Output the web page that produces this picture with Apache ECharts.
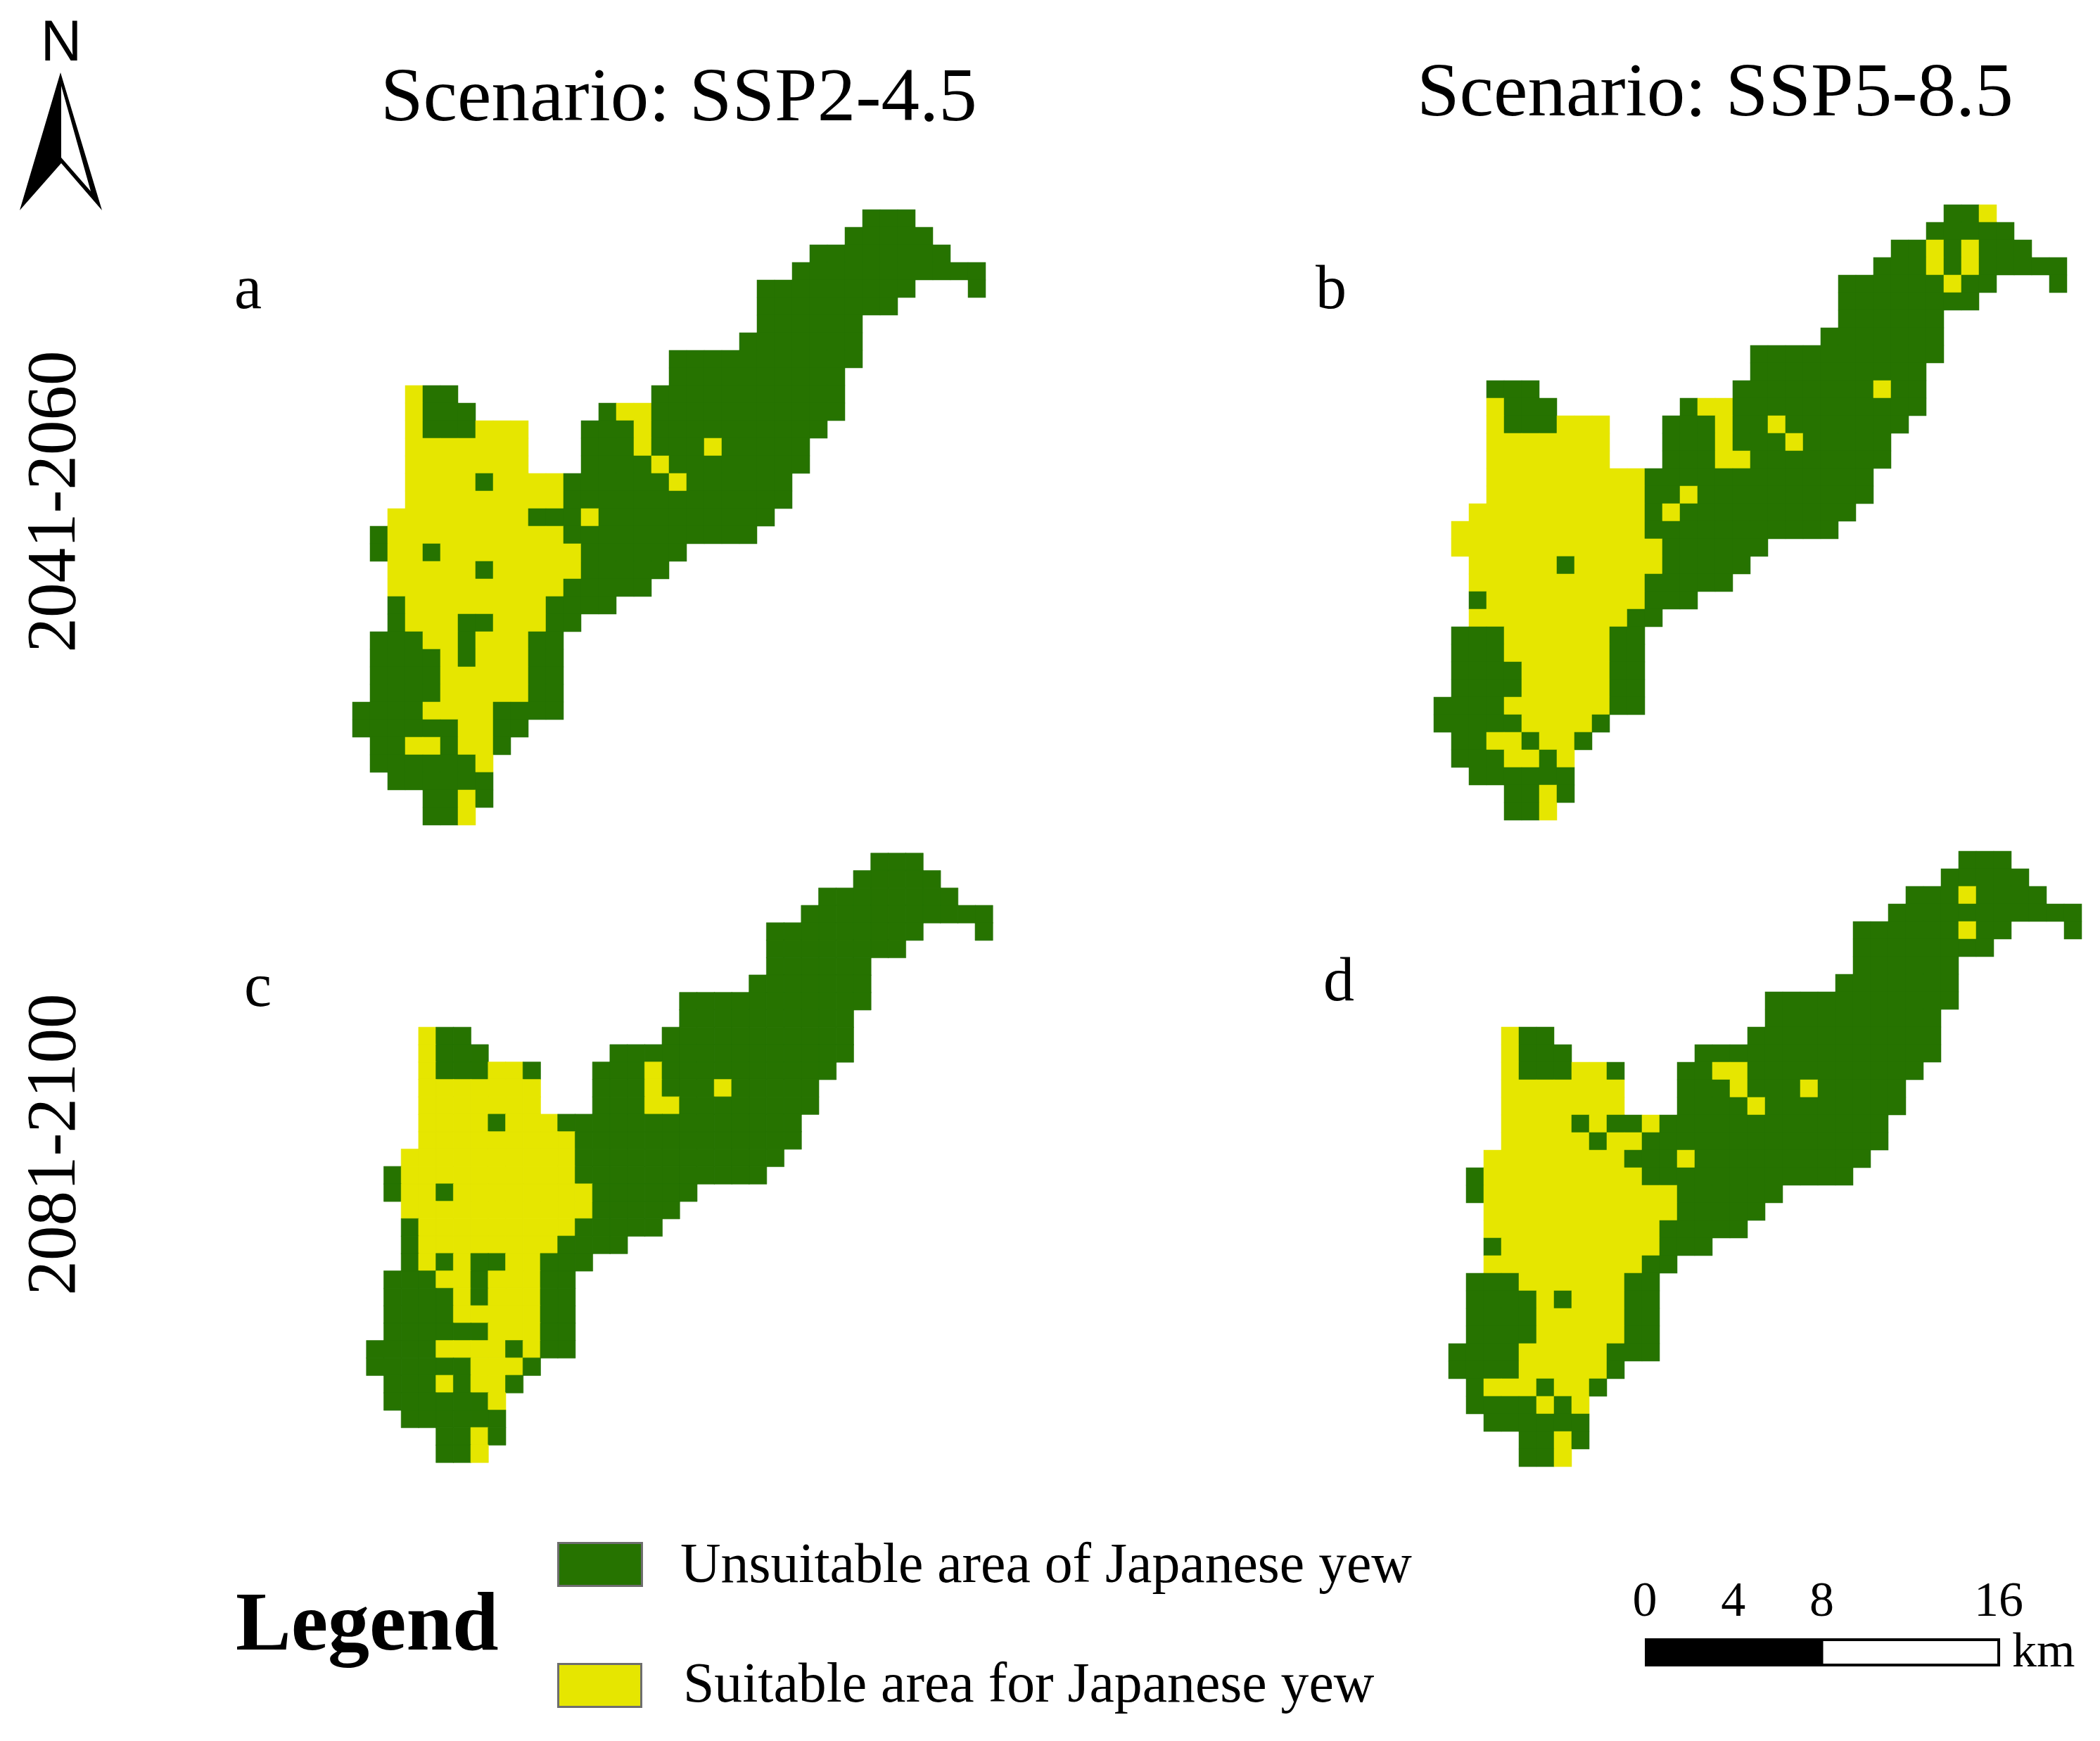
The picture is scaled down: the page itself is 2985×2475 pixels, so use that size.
<!DOCTYPE html>
<html>
<head>
<meta charset="utf-8">
<title>Japanese yew suitable area</title>
<script src="https://cdn.jsdelivr.net/npm/echarts@6/dist/echarts.min.js"></script>
<style>
  html, body { margin: 0; padding: 0; background: #fff; }
  #main { width: 2985px; height: 2475px; }
</style>
</head>
<body>
<div id="main"></div>
<script>
// raster rows, top to bottom: g = unsuitable, y = suitable, numbers are column ranges
const panelA = [
  'g29-31', 'g28-32', 'g26-33', 'g25-35', 'g23-31 g35', 'g23-30', 'g23-28', 'g22-28', 'g18-28', 'g18-27',
  'y3 g4-5 g17-27',
  'y3 g4-6 g14 y15-16 g17-27',
  'y3 g4-6 y7-9 g13-15 y16 g17-26',
  'y3-9 g13-15 y16 g17-19 y20 g21-25',
  'y3-9 g13-16 y17 g18-25',
  'y3-6 g7 y8-11 g12-17 y18 g19-24',
  'y3-11 g12-24',
  'y2-9 g10-12 y13 g14-23',
  'g1 y2-11 g12-22',
  'g1 y2-3 g4 y5-12 g13-18',
  'y2-6 g7 y8-12 g13-17',
  'y2-11 g12-16',
  'g2 y3-10 g11-14',
  'g2 y3-5 g6-7 y8-10 g11-12',
  'g1-3 y4-5 g6 y7-9 g10-11',
  'g1-4 y5 g6 y7-9 g10-11',
  'g1-4 y5-9 g10-11',
  'g1-4 y5-9 g10-11',
  'g0-3 y4-7 g8-11',
  'g0-5 y6-7 g8-9',
  'g1-2 y3-4 g5 y6-7 g8',
  'g1-6 y7',
  'g2-7',
  'g4-5 y6 g7',
  'g4-5 y6'
]
const panelB = [
  'g29-30 y31', 'g28-32',
  'g26-27 y28 g29 y30 g31-33',
  'g25-27 y28 g29 y30 g31-35',
  'g23-28 y29 g30-31 g35',
  'g23-30', 'g23-28', 'g22-28', 'g18-28', 'g18-27',
  'g3-5 g17-24 y25 g26-27',
  'y3 g4-6 g14 y15-16 g17-27',
  'y3 g4-6 y7-9 g13-15 y16 g17-18 y19 g20-26',
  'y3-9 g13-15 y16 g17-19 y20 g21-25',
  'y3-9 g13-15 y16-17 g18-25',
  'y3-11 g12-24',
  'y3-11 g12-13 y14 g15-24',
  'y2-11 g12 y13 g14-23',
  'y1-11 g12-22',
  'y1-12 g13-18',
  'y2-6 g7 y8-12 g13-17',
  'y2-11 g12-16',
  'g2 y3-11 g12-14',
  'y2-10 g11-12',
  'g1-3 y4-9 g10-11',
  'g1-3 y4-9 g10-11',
  'g1-4 y5-9 g10-11',
  'g1-4 y5-9 g10-11',
  'g0-3 y4-9 g10-11',
  'g0-4 y5-8 g9',
  'g1-2 y3-4 g5 y6-7 g8',
  'g1-3 y4-5 g6 y7',
  'g2-7',
  'g4-5 y6 g7',
  'g4-5 y6'
]
const panelC = [
  'g29-31', 'g28-32', 'g26-33', 'g25-35', 'g23-31 g35', 'g23-30', 'g23-28', 'g22-28', 'g18-28', 'g18-27',
  'y3 g4-5 g17-27',
  'y3 g4-6 g14-27',
  'y3 g4-6 y7-8 g9 g13-15 y16 g17-26',
  'y3-9 g13-15 y16 g17-19 y20 g21-25',
  'y3-9 g13-15 y16-17 g18-25',
  'y3-6 g7 y8-10 g11-24',
  'y3-11 g12-24',
  'y2-11 g12-23',
  'g1 y2-11 g12-22',
  'g1 y2-3 g4 y5-12 g13-18',
  'y2-12 g13-17',
  'g2 y3-11 g12-16',
  'g2 y3-10 g11-14',
  'g2 y3 g4 y5 g6-7 y8-9 g10-12',
  'g1-3 y4-5 g6 y7-9 g10-11',
  'g1-4 y5 g6 y7-9 g10-11',
  'g1-4 y5-9 g10-11',
  'g1-6 y7-9 g10-11',
  'g0-3 y4-7 g8 y9 g10-11',
  'g0-5 y6-8 g9',
  'g1-3 y4 g5 y6-7 g8',
  'g1-6 y7',
  'g2-7',
  'g4-5 y6 g7',
  'g4-5 y6'
]
const panelD = [
  'g29-31', 'g28-32',
  'g26-28 y29 g30-33',
  'g25-35',
  'g23-28 y29 g30-31 g35',
  'g23-30', 'g23-28', 'g22-28', 'g18-28', 'g18-27',
  'y3 g4-5 g17-27',
  'y3 g4-6 g14-27',
  'y3 g4-6 y7-8 g9 g13-14 y15-16 g17-26',
  'y3-9 g13-15 y16 g17-19 y20 g21-25',
  'y3-9 g13-16 y17 g18-25',
  'y3-6 g7 y8 g9-10 y11 g12-24',
  'y3-7 g8 y9-10 g11-24',
  'y2-9 g10-12 y13 g14-23',
  'g1 y2-10 g11-22',
  'g1 y2-12 g13-18',
  'y2-12 g13-17',
  'y2-11 g12-16',
  'g2 y3-11 g12-14',
  'y2-10 g11-12',
  'g1-3 y4-9 g10-11',
  'g1-4 y5 g6 y7-9 g10-11',
  'g1-4 y5-9 g10-11',
  'g1-4 y5-9 g10-11',
  'g0-3 y4-8 g9-11',
  'g0-3 y4-8 g9',
  'g1 y2-4 g5 y6-7 g8',
  'g1-4 y5 g6 y7',
  'g2-7',
  'g4-5 y6 g7',
  'g4-5 y6'
]

const columns = Array.from({ length: 36 }, (_, i) => i)
const rows = Array.from({ length: 35 }, (_, i) => i)
const legendLabels = ['Unsuitable area of Japanese yew', 'Suitable area for Japanese yew']
const scaleTicks = [0, 4, 8, 16]

const GREEN = '#267300'
const YELLOW = '#E6E600'
const SERIF = '"Liberation Serif", serif'

// panel c was pasted in slightly smaller than the others, its cells are not whole pixels
const panels = [
  { rows: panelA, left: 501, top: 298, width: 900, height: 875 },
  { rows: panelB, left: 2038, top: 291, width: 900, height: 875 },
  { rows: panelC, left: 521, top: 1213, width: 890, height: 866, seal: true },
  { rows: panelD, left: 2059, top: 1210, width: 900, height: 875 }
]

function toCells(p) {
  const cells = []
  p.rows.forEach((line, r) => {
    line.split(' ').forEach(tok => {
      const m = tok.match(/^([gy])(\d+)(?:-(\d+))?$/)
      const from = +m[2]
      const to = m[3] ? +m[3] : from
      for (let c = from; c <= to; c++) {
        const v = m[1] === 'y' ? 1 : 0
        // same colour border hides the hairlines between cells
        cells.push(p.seal
          ? { value: [c, r, v], itemStyle: { borderColor: v ? YELLOW : GREEN, borderWidth: 0.6 } }
          : [c, r, v])
      }
    })
  })
  return cells
}

// y is the bottom of the text box
function label(text, x, y, size, extra) {
  const o = Object.assign({ align: 'left', font: SERIF, weight: 'normal', rotation: 0 }, extra)
  return {
    type: 'text',
    x: x,
    y: y,
    rotation: o.rotation,
    style: {
      text: text,
      fill: '#000',
      font: o.weight + ' ' + size + 'px ' + o.font,
      textAlign: o.align,
      textVerticalAlign: 'bottom'
    }
  }
}

function box(x, y, w, h, fill, stroke, lw) {
  return { type: 'rect', shape: { x: x, y: y, width: w, height: h }, style: { fill: fill, stroke: stroke, lineWidth: lw || 0 } }
}

const scaleX = v => 2338 + v * 31.44

const graphics = [
  label('N', 87, 104, 81, { font: '"Liberation Sans", sans-serif', align: 'center' }),
  { type: 'polygon', shape: { points: [[86, 103], [145, 299], [87, 232], [28, 299]] }, style: { fill: '#000' } },
  { type: 'polygon', shape: { points: [[87, 122], [129, 272], [87, 224]] }, style: { fill: '#fff' } },

  label('Scenario: SSP2-4.5', 541, 197, 109),
  label('Scenario: SSP5-8.5', 2014, 190, 109),
  label('2041-2060', 129, 713, 99, { rotation: Math.PI / 2, align: 'center' }),
  label('2081-2100', 129, 1627, 99, { rotation: Math.PI / 2, align: 'center' }),
  label('a', 333, 459, 88),
  label('b', 1870, 459, 88),
  label('c', 347, 1451, 88),
  label('d', 1881, 1443, 88),

  label('Legend', 335, 2374, 118, { weight: 'bold' }),
  box(793.5, 2193.5, 119, 61, GREEN, '#6E6E6E', 3),
  box(793.5, 2365.5, 118, 61, YELLOW, '#6E6E6E', 3),
  label(legendLabels[0], 967, 2268, 79.7),
  label(legendLabels[1], 971, 2438, 79.7),

  box(scaleX(8), 2331, scaleX(16) - scaleX(8), 36, '#fff', '#000', 4),
  box(scaleX(0), 2329, scaleX(8) - scaleX(0), 40, '#000'),
  label('km', 2860, 2386, 70)
]
scaleTicks.forEach(t => {
  graphics.push(label(String(t), scaleX(t), 2314, 70, { align: 'center' }))
})

const option = {
  animation: false,
  backgroundColor: '#fff',
  grid: panels.map(p => ({ left: p.left, top: p.top, width: p.width, height: p.height, containLabel: false })),
  xAxis: panels.map((p, i) => ({ type: 'category', gridIndex: i, data: columns, show: false })),
  yAxis: panels.map((p, i) => ({ type: 'category', gridIndex: i, data: rows, inverse: true, show: false })),
  visualMap: {
    type: 'piecewise',
    show: false,
    dimension: 2,
    pieces: [{ value: 0, color: GREEN }, { value: 1, color: YELLOW }]
  },
  series: panels.map((p, i) => ({
    type: 'heatmap',
    xAxisIndex: i,
    yAxisIndex: i,
    data: toCells(p),
    silent: true,
    progressive: 0
  })),
  graphic: graphics
}

let myChart = echarts.init(document.getElementById('main'), null, { renderer: 'canvas' })
myChart.setOption(option)
</script>
</body>
</html>
